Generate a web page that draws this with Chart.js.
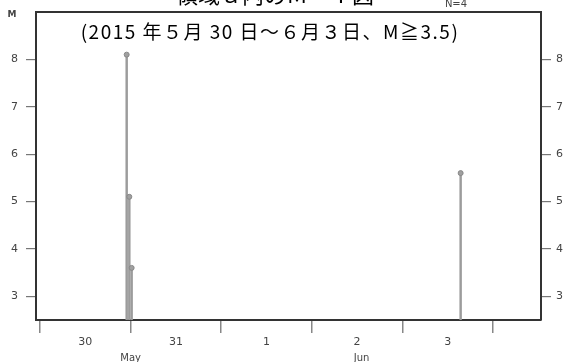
<!DOCTYPE html>
<html>
<head>
<meta charset="utf-8">
<script src="https://cdn.jsdelivr.net/npm/chart.js@4/dist/chart.umd.min.js"></script>
<style>
  html, body { margin: 0; padding: 0; background: #fff; }
  #wrap { width: 567px; height: 362px; }
</style>
</head>
<body>
<div id="wrap"><canvas id="mt"></canvas></div>
<script>
// event list (JST)
const eventTimes = ["2015-05-30T22:58", "2015-05-30T23:40", "2015-05-31T00:17", "2015-06-03T15:26"];
const magnitudes = [8.1, 5.1, 3.6, 5.6];

const dayLabels = ["30", "31", "1", "2", "3"];
const monthLabels = ["May", "Jun"];
const monthLabelDays = [1.0, 3.55];
const yTicks = [3, 4, 5, 6, 7, 8];

const startDay = new Date("2015-05-30T00:00");
const toDays = s => (new Date(s) - startDay) / 86400000;
const points = eventTimes.map((t, i) => ({ x: toDays(t), y: magnitudes[i] }));

const textPlugin = {
    id: "mtText",
    afterDraw(chart) {
        const ctx = chart.ctx;
        ctx.save();
        ctx.fillStyle = "#000";
        ctx.textAlign = "center";
        ctx.textBaseline = "alphabetic";
        ctx.font = "22px 'Noto Sans CJK JP'";
        ctx.fillText("領域ａ内のＭ－Ｔ図", 275, 3);
        ctx.font = "19px 'Noto Sans CJK JP'";
        ctx.letterSpacing = "1.5px";
        ctx.fillText("(2015 年５月 30 日～６月３日、M≧3.5)", 270, 39);
        ctx.letterSpacing = "0px";
        ctx.fillStyle = "#444";
        ctx.font = "bold 9px 'DejaVu Sans'";
        ctx.fillText("M", 12, 17);
        ctx.font = "10px 'DejaVu Sans'";
        ctx.fillText("N=4", 456, 7);
        ctx.restore();
    }
};

const fixSize = (w, h) => scale => {
    if (w !== null) scale.width = w;
    if (h !== null) scale.height = h;
    scale.paddingTop = 0;
    scale.paddingBottom = 0;
    scale.paddingLeft = 0;
    scale.paddingRight = 0;
};

const labelAxis = (ticksFn, labels, height, size) => ({
    type: "linear",
    position: "bottom",
    min: -0.044,
    max: 5.53,
    afterBuildTicks: s => { s.ticks = ticksFn().map(v => ({ value: v })); },
    afterFit: fixSize(null, height),
    ticks: {
        callback: (v, i) => labels[i],
        color: "#444",
        font: { family: "'DejaVu Sans'", size: size },
        padding: 2,
        maxRotation: 0,
        autoSkip: false
    },
    grid: { display: false, drawTicks: false },
    border: { display: false }
});

new Chart(document.getElementById("mt"), {
    data: {
        datasets: [
            {
                type: "scatter",
                data: points,
                pointRadius: 2.5,
                pointBackgroundColor: "#a0a0a0",
                pointBorderColor: "#888",
                pointBorderWidth: 1,
                order: 0
            },
            {
                type: "bar",
                data: points,
                backgroundColor: "#9c9c9c",
                barThickness: 1.8,
                order: 1
            }
        ]
    },
    options: {
        responsive: true,
        maintainAspectRatio: false,
        animation: false,
        layout: { padding: 0 },
        plugins: { legend: { display: false }, tooltip: { enabled: false } },
        scales: {
            x: {
                type: "linear",
                position: "bottom",
                min: -0.044,
                max: 5.53,
                offset: false,
                afterBuildTicks: s => { s.ticks = [0, 1, 2, 3, 4, 5].map(v => ({ value: v })); },
                afterFit: fixSize(null, 14),
                ticks: { callback: () => "" },
                grid: { offset: false, drawOnChartArea: false, drawTicks: true, tickLength: 13, color: "#888", lineWidth: 1.5 },
                border: { display: true, color: "#333", width: 2 }
            },
            x2: labelAxis(() => dayLabels.map((l, i) => i + 0.5), dayLabels, 16, 11),
            x3: labelAxis(() => monthLabelDays, monthLabels, 12, 10),
            xTop: {
                type: "linear",
                position: "top",
                min: -0.044,
                max: 5.53,
                afterFit: fixSize(null, 12),
                ticks: { display: false },
                grid: { display: false },
                border: { display: true, color: "#333", width: 2 }
            },
            y: {
                type: "linear",
                position: "left",
                min: 2.5,
                max: 9,
                afterBuildTicks: s => { s.ticks = yTicks.map(v => ({ value: v })); },
                afterFit: fixSize(36, null),
                ticks: { color: "#444", font: { family: "'DejaVu Sans'", size: 11 }, padding: 8 },
                grid: { drawOnChartArea: false, drawTicks: true, tickLength: 10, color: "#777", lineWidth: 1.2 },
                border: { display: true, color: "#333", width: 2 }
            },
            yRight: {
                type: "linear",
                position: "right",
                min: 2.5,
                max: 9,
                afterBuildTicks: s => { s.ticks = yTicks.map(v => ({ value: v })); },
                afterFit: fixSize(26, null),
                ticks: { color: "#444", font: { family: "'DejaVu Sans'", size: 11 }, padding: 5 },
                grid: { drawOnChartArea: false, drawTicks: true, tickLength: 10, color: "#777", lineWidth: 1.2 },
                border: { display: true, color: "#333", width: 2 }
            }
        }
    },
    plugins: [textPlugin]
});
</script>
</body>
</html>
